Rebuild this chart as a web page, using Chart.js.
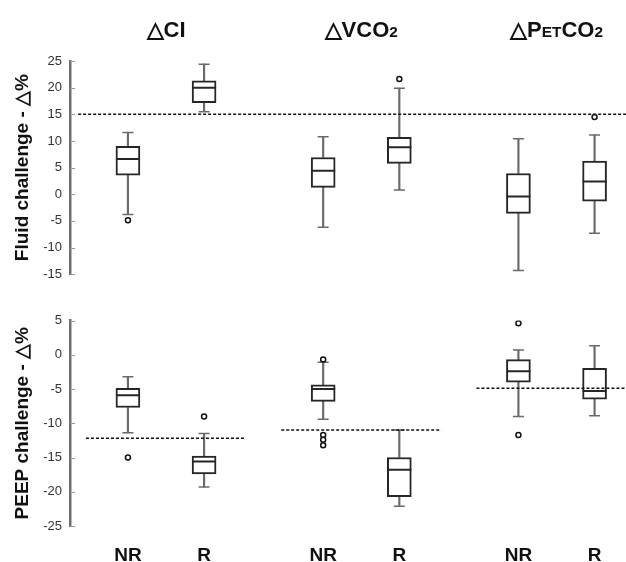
<!DOCTYPE html>
<html>
<head>
<meta charset="utf-8">
<script src="https://cdn.jsdelivr.net/npm/chart.js@4.4.1/dist/chart.umd.min.js"></script>
<style>
  html, body { margin: 0; padding: 0; background: #fff; }
  #wrap { position: relative; width: 626px; height: 562px; font-family: Arial, "Liberation Sans", sans-serif; }
  #fluid { position: absolute; left: 0; top: 0; }
  #peep { position: absolute; left: 0; top: 290px; }
  .title { position: absolute; top: 19px; font-weight: bold; font-size: 22px; line-height: 1; color: #111;
           transform: translateX(-50%); white-space: nowrap; }
  .title small { font-size: 0.7em; }
</style>
</head>
<body>
<div id="wrap">
  <canvas id="fluid" width="626" height="290"></canvas>
  <canvas id="peep" width="626" height="272"></canvas>
</div>
<script>
// groups and responder classes
const groups = ['CI', 'VCO2', 'PETCO2'];
const groupTitles = ['△CI', '△VCO<small>2</small>', '△P<small>ET</small>CO<small>2</small>'];
const responders = ['NR', 'R'];

// fluid challenge, order: CI NR, CI R, VCO2 NR, VCO2 R, PETCO2 NR, PETCO2 R
const fluidMin    = [-3.8, 15.5, -6.2,  0.8, -14.3, -7.3];
const fluidQ1     = [ 3.6, 17.2,  1.3,  5.8,  -3.6, -1.3];
const fluidMedian = [ 6.6, 20.0,  4.4,  8.8,  -0.4,  2.4];
const fluidQ3     = [ 9.0, 21.3,  6.9, 10.7,   3.9,  6.2];
const fluidMax    = [11.6, 24.4, 10.8, 19.9,  10.4, 11.1];
const fluidOutliers = [[-4.9], [], [], [21.6], [], [14.5]];
const fluidThreshold = 15;

// PEEP challenge
const peepMin    = [-11.4, -19.3,  -9.4, -22.1, -9.0, -8.9];
const peepQ1     = [ -7.7, -17.4,  -6.8, -20.7, -4.0, -6.5];
const peepMedian = [ -5.9, -15.6,  -5.0, -16.8, -2.4, -5.3];
const peepQ3     = [ -4.9, -14.8,  -4.4, -15.0, -0.7, -2.0];
const peepMax    = [ -3.2, -11.5,  -1.1, -11.0,  0.7,  1.3];
const peepOutliers = [[-15.0], [-9.0], [-0.7, -11.7, -12.4, -13.2], [], [4.6, -11.7], []];
const peepThresholds = [-12.2, -11.0, -4.9];

const fluidTicks = { min: -15, max: 25, step: 5 };
const peepTicks = { min: -25, max: 5, step: 5 };

// x positions: group index +/- offset
const half = 0.195;
const xPos = [];
groups.forEach((g, i) => { xPos.push(i - half, i + half); });

const FONT = 'Arial, "Liberation Sans", sans-serif';
const boxColor = '#262626';
const whiskerColor = '#6a6a6a';

function boxDatasets(mins, q1s, meds, q3s, maxs, outliers) {
  return [
    { type: 'bar', data: xPos.map((x, i) => ({ x, y: [mins[i], q1s[i]] })),
      barThickness: 1.5, backgroundColor: whiskerColor, borderWidth: 0, grouped: false, order: 6 },
    { type: 'bar', data: xPos.map((x, i) => ({ x, y: [q3s[i], maxs[i]] })),
      barThickness: 1.5, backgroundColor: whiskerColor, borderWidth: 0, grouped: false, order: 5 },
    { type: 'bar', data: xPos.map((x, i) => ({ x, y: [q1s[i], q3s[i]] })),
      barThickness: 24, backgroundColor: '#fff', borderColor: boxColor, borderWidth: 2,
      borderSkipped: false, grouped: false, order: 4 },
    { type: 'scatter', data: xPos.map((x, i) => ({ x, y: meds[i] })),
      pointStyle: 'line', pointRadius: 12, borderColor: boxColor, borderWidth: 2, order: 3 },
    { type: 'scatter', data: xPos.flatMap((x, i) => [{ x, y: mins[i] }, { x, y: maxs[i] }]),
      pointStyle: 'line', pointRadius: 5.5, borderColor: whiskerColor, borderWidth: 1.5, order: 2 },
    { type: 'scatter', data: xPos.flatMap((x, i) => outliers[i].map(v => ({ x, y: v }))),
      pointStyle: 'circle', pointRadius: 2.5, borderColor: '#111', backgroundColor: '#fff',
      borderWidth: 1.5, order: 1 },
  ];
}

function thresholdDataset(points) {
  return { type: 'line', data: points, borderColor: '#111', borderWidth: 1.5,
           borderDash: [3, 2], pointRadius: 0, spanGaps: false, order: 0 };
}

// small tick marks on the inner side of the y axis
const innerTicks = {
  id: 'innerTicks',
  afterDraw(chart) {
    const y = chart.scales.y, ctx = chart.ctx, left = chart.chartArea.left;
    ctx.save();
    ctx.strokeStyle = '#999';
    ctx.lineWidth = 1;
    y.ticks.forEach(t => {
      const py = Math.round(y.getPixelForValue(t.value)) + 0.5;
      ctx.beginPath();
      ctx.moveTo(left, py);
      ctx.lineTo(left + 5, py);
      ctx.stroke();
    });
    ctx.restore();
  }
};

function makeChart(id, datasets, ticks, title, pad, showX) {
  return new Chart(document.getElementById(id), {
    type: 'bar',
    data: { datasets },
    options: {
      responsive: false,
      animation: false,
      events: [],
      layout: { autoPadding: false, padding: { top: pad.top, bottom: pad.bottom, left: 0, right: 0 } },
      plugins: { legend: { display: false }, tooltip: { enabled: false } },
      scales: {
        x: {
          type: 'linear', min: -0.4917, max: 2.356, offset: false, display: showX,
          grid: { display: false }, border: { display: false },
          afterBuildTicks: (s) => { s.ticks = xPos.map(v => ({ value: v })); },
          afterFit: (s) => { if (showX) s.height = 36; },
          ticks: { autoSkip: false, maxRotation: 0, padding: 10, color: '#111',
                   font: { family: FONT, size: 19, weight: 'bold' },
                   callback: (v, i) => responders[i % 2] }
        },
        y: {
          min: ticks.min, max: ticks.max,
          afterFit: (s) => { s.width = 70; },
          grid: { drawOnChartArea: false, drawTicks: false },
          border: { color: '#6e6e6e', width: 2.5 },
          ticks: { stepSize: ticks.step, padding: 8, color: '#333', font: { family: FONT, size: 13 } },
          title: { display: true, text: title, color: '#111', padding: { top: 11, bottom: 0 },
                   font: { family: FONT, size: 19, weight: 'bold' } }
        }
      }
    },
    plugins: [innerTicks]
  });
}

const fluidChart = makeChart('fluid',
  [thresholdDataset([{ x: -0.45, y: fluidThreshold }, { x: 2.45, y: fluidThreshold }]),
   ...boxDatasets(fluidMin, fluidQ1, fluidMedian, fluidQ3, fluidMax, fluidOutliers)],
  fluidTicks, 'Fluid challenge - △%', { top: 61, bottom: 15.7 }, false);

const peepLine = [];
peepThresholds.forEach((t, i) => {
  if (i > 0) peepLine.push({ x: i - 0.5, y: null });
  peepLine.push({ x: i - 0.41, y: t }, { x: i + 0.41, y: t });
});
const peepChart = makeChart('peep',
  [thresholdDataset(peepLine),
   ...boxDatasets(peepMin, peepQ1, peepMedian, peepQ3, peepMax, peepOutliers)],
  peepTicks, 'PEEP challenge - △%', { top: 30.5, bottom: 0 }, true);

// group titles placed above each pair using the x scale
const wrap = document.getElementById('wrap');
groupTitles.forEach((html, i) => {
  const d = document.createElement('div');
  d.className = 'title';
  d.innerHTML = html;
  d.style.left = fluidChart.scales.x.getPixelForValue(i) + 'px';
  wrap.appendChild(d);
});
</script>
</body>
</html>
